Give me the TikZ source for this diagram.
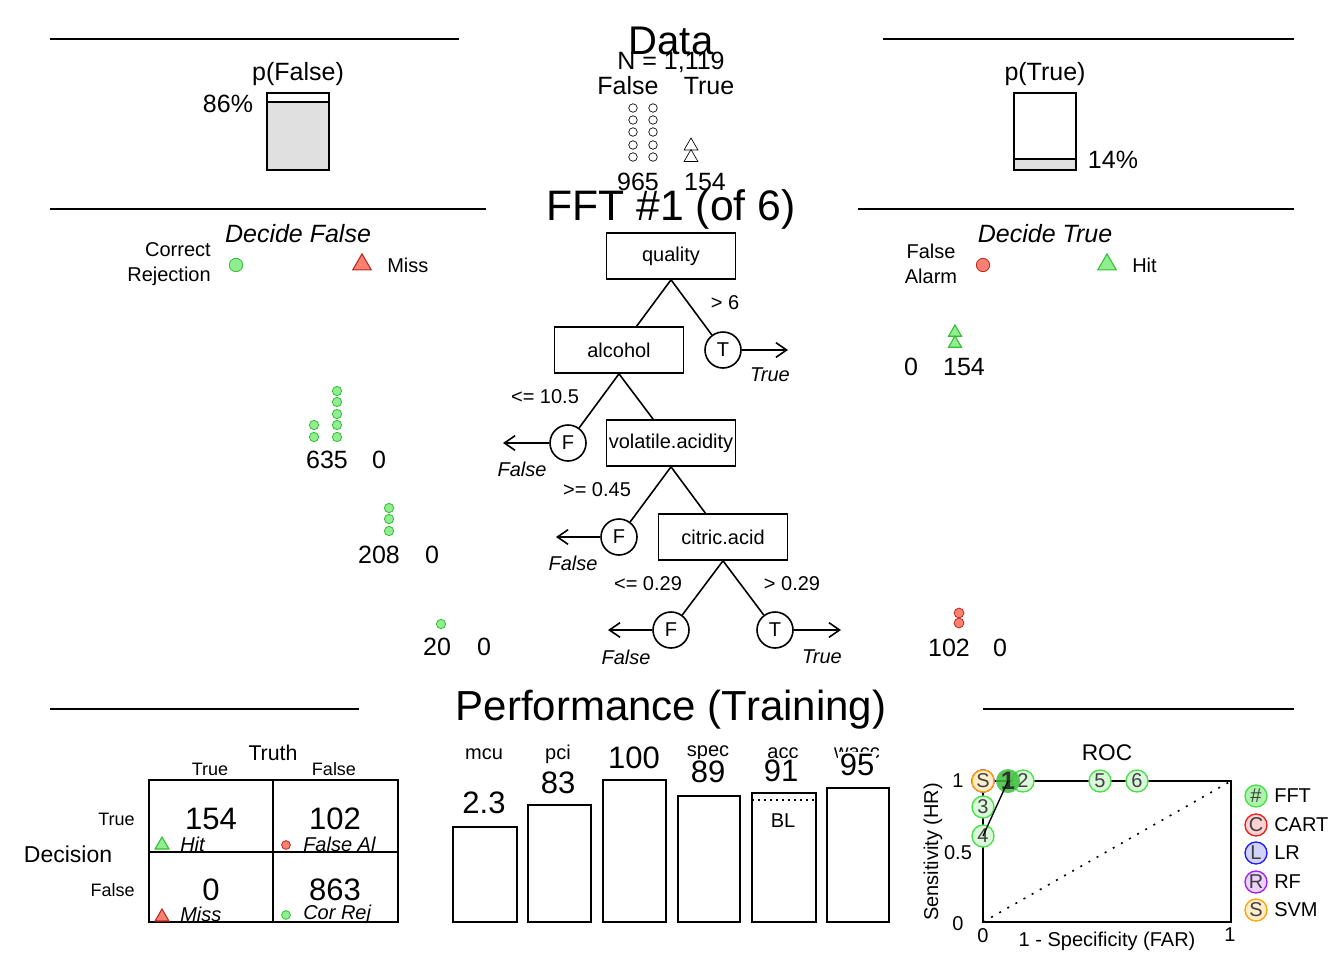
\documentclass[tikz,border=0pt]{standalone}
\usepackage{fontspec}
\setmainfont{Liberation Sans}
\usetikzlibrary{arrows.meta,shapes.geometric}

\definecolor{grfill}{RGB}{144,238,144}
\definecolor{grline}{RGB}{50,190,50}
\definecolor{rdfill}{RGB}{250,128,114}
\definecolor{rdline}{RGB}{190,40,30}
\definecolor{barfill}{RGB}{224,224,224}
\definecolor{rocgreen}{RGB}{70,225,70}
\definecolor{rocred}{RGB}{240,30,30}
\definecolor{rocblue}{RGB}{30,30,240}
\definecolor{rocpurple}{RGB}{160,32,240}
\definecolor{rocorange}{RGB}{255,165,0}

\newcommand{\sizeS}{\fontsize{15}{18.75}\selectfont}
\newcommand{\sizeM}{\fontsize{18.75}{22.5}\selectfont}
\newcommand{\sizeL}{\fontsize{23.25}{27.9}\selectfont}

\tikzset{
  rule/.style={line width=1.5pt},
  txtS/.style={inner sep=0pt, font=\sizeS},
  txtM/.style={inner sep=0pt, font=\sizeM},
  txtL/.style={inner sep=0pt, font=\sizeL},
  cue/.style={draw, line width=1.2pt, minimum width=96.75pt, minimum height=34.5pt, inner sep=0pt, font=\sizeS},
  exitnode/.style={draw, circle, line width=1.2pt, minimum size=27pt, inner sep=0pt, font=\sizeS},
  branch/.style={line width=1.2pt},
  exitarrow/.style={line width=1.2pt, -{Straight Barb[length=8pt,width=11pt]}},
  tri/.style={regular polygon, regular polygon sides=3, inner sep=0pt, line width=0.8pt},
  hittri/.style={tri, draw=grline, fill=grfill},
  misstri/.style={tri, draw=rdline, fill=rdfill},
  crdot/.style={draw=grline, fill=grfill, line width=0.6pt},
  fadot/.style={draw=rdline, fill=rdfill, line width=0.6pt},
  bar/.style={draw, line width=1.2pt},
  valbox/.style={inner sep=1.5pt, fill=white, font=\sizeL},
  rocpt/.style={circle, draw=#1, fill=#1!20, line width=1pt, minimum size=16.5pt, inner sep=0pt, font=\sizeS, text=black!75},
}

\begin{document}
\begin{tikzpicture}[x=0.75pt,y=-0.75pt]
\useasboundingbox (0,0) rectangle (1344,960);

	% header rules
	\draw[rule] (50,39) -- (459,39);
	\draw[rule] (883,39) -- (1294,39);
	\draw[rule] (50,209) -- (486,209);
	\draw[rule] (858,209) -- (1294,209);
	\draw[rule] (50,709) -- (359,709);
	\draw[rule] (983,709) -- (1294,709);

	% data
	\node[inner sep=0pt, font=\fontsize{30}{36}\selectfont] (datatitle) at (671,41) {Data};
	\node[txtM] (ntotal) at (671,62) {N = 1,119};
	\node[txtM] (hdfalse) at (628,86) {False};
	\node[txtM] (hdtrue) at (709,86) {True};
	\foreach \y in {108,120,132,145,157}
		\draw[line width=0.5pt] (633,\y) circle[radius=3.2pt] (653,\y) circle[radius=3.2pt];
	\node[tri, draw, fill=white, line width=0.5pt, minimum size=12pt] (dtri1) at (691,146) {};
	\node[tri, draw, fill=white, line width=0.5pt, minimum size=12pt] (dtri2) at (691,157.5) {};
	\node[txtM] (nfalse) at (638,182) {965};
	\node[txtM] (ntrue) at (705,182) {154};

	% p(False) / p(True)
	\node[txtM] (pfalse) at (298,74) {p(False)};
	\draw[line width=1.2pt, fill=barfill] (267,93) rectangle (329,170);
	\draw[line width=1.2pt, fill=white] (267,93) rectangle (329,102);
	\node[txtM] (pfalseval) at (228,104) {86\%};
	\node[txtM] (ptrue) at (1045,74) {p(True)};
	\draw[line width=1.2pt] (1014,93) rectangle (1076,170);
	\draw[line width=1.2pt, fill=barfill] (1014,159) rectangle (1076,170);
	\node[txtM] (ptrueval) at (1113,160) {14\%};

	% tree title and legends
	\node[inner sep=0pt, font=\fontsize{32}{38}\selectfont] (ffttitle) at (671,209) {FFT \#1 (of 6)};
	\node[txtM, font=\sizeM\itshape] (decfalse) at (298,234) {Decide False};
	\node[txtS, align=right, anchor=east] (corrrej) at (211,264) {Correct\\Rejection};
	\filldraw[crdot] (236,265) circle[radius=5pt];
	\node[misstri, minimum size=16pt] (misslegend) at (362,264.5) {};
	\node[txtS, anchor=west] (misstxt) at (387,265) {Miss};
	\node[txtM, font=\sizeM\itshape] (dectrue) at (1045,234) {Decide True};
	\node[txtS, align=center] (falsealarm) at (931,264) {False\\Alarm};
	\filldraw[fadot] (983,265) circle[radius=5pt];
	\node[hittri, minimum size=16pt] (hitlegend) at (1107,264.5) {};
	\node[txtS, anchor=west] (hittxt) at (1132,265) {Hit};

	% tree
	\node[cue] (quality) at (671,256) {quality};
	\node[cue] (alcohol) at (619,350) {alcohol};
	\node[cue] (volatile) at (671,443) {volatile.acidity};
	\node[cue] (citric) at (723,537) {citric.acid};
	\node[exitnode] (exitT1) at (723,350) {T};
	\node[exitnode] (exitF2) at (568,443) {F};
	\node[exitnode] (exitF3) at (619,537) {F};
	\node[exitnode] (exitF4) at (671,630) {F};
	\node[exitnode] (exitT4) at (775,630) {T};
	\coordinate (endT1) at (788,350);
	\coordinate (endF2) at (503,443);
	\coordinate (endF3) at (556,537);
	\coordinate (endF4) at (608,630);
	\coordinate (endT4) at (841,630);

	\draw[branch] (quality.south) -- (alcohol);
	\draw[branch] (quality.south) -- (exitT1);
	\draw[branch] (alcohol.south) -- (exitF2);
	\draw[branch] (alcohol.south) -- (volatile);
	\draw[branch] (volatile.south) -- (exitF3);
	\draw[branch] (volatile.south) -- (citric);
	\draw[branch] (citric.south) -- (exitF4);
	\draw[branch] (citric.south) -- (exitT4);
	\draw[exitarrow] (exitT1) -- (endT1);
	\draw[exitarrow] (exitF2) -- (endF2);
	\draw[exitarrow] (exitF3) -- (endF3);
	\draw[exitarrow] (exitF4) -- (endF4);
	\draw[exitarrow] (exitT4) -- (endT4);

	\node[txtS] (thr1) at (725,303) {> 6};
	\node[txtS] (thr2) at (545,397) {<= 10.5};
	\node[txtS] (thr3) at (597,490) {>= 0.45};
	\node[txtS] (thr4a) at (648,584) {<= 0.29};
	\node[txtS] (thr4b) at (792,584) {> 0.29};
	\node[txtS, font=\sizeS\itshape] (decT1) at (770,375) {True};
	\node[txtS, font=\sizeS\itshape] (decF2) at (522,469) {False};
	\node[txtS, font=\sizeS\itshape] (decF3) at (573,563) {False};
	\node[txtS, font=\sizeS\itshape] (decF4) at (626,657) {False};
	\node[txtS, font=\sizeS\itshape] (decT4) at (822,657) {True};

	% cases at each exit
	\foreach \y in {425,437} \filldraw[crdot] (314,\y) circle[radius=3.5pt];
	\foreach \y in {391,402,414,425,437} \filldraw[crdot] (337,\y) circle[radius=3.5pt];
	\node[txtM] (crF2) at (327,460) {635};
	\node[txtM] (miF2) at (379,460) {0};
	\foreach \y in {508,519,531} \filldraw[crdot] (389,\y) circle[radius=3.5pt];
	\node[txtM] (crF3) at (379,555) {208};
	\node[txtM] (miF3) at (432,555) {0};
	\filldraw[crdot] (441,624) circle[radius=3.5pt];
	\node[txtM] (crF4) at (437,647) {20};
	\node[txtM] (miF4) at (484,647) {0};
	\node[hittri, minimum size=11.25pt] (hitT1a) at (955,332.5) {};
	\node[hittri, minimum size=11.25pt] (hitT1b) at (955,343.5) {};
	\node[txtM] (faT1) at (911,367) {0};
	\node[txtM] (hiT1) at (964,367) {154};
	\filldraw[fadot] (959,613) circle[radius=3.7pt] (959,623) circle[radius=3.7pt];
	\node[txtM] (faT4) at (949,648) {102};
	\node[txtM] (hiT4) at (1000,648) {0};

	% performance
	\node[inner sep=0pt, font=\fontsize{31.5}{38}\selectfont] (perftitle) at (671,710) {Performance (Training)};

	% confusion table
	\draw[line width=1.2pt] (149,780) rectangle (398,922);
	\draw[line width=1.2pt] (273,780) -- (273,922);
	\draw[line width=1.2pt] (149,852) -- (398,852);
	\node[inner sep=0pt, font=\fontsize{16}{19}\selectfont] (truth) at (273,753) {Truth};
	\node[inner sep=0pt, font=\fontsize{13.5}{16}\selectfont] (coltrue) at (210,769) {True};
	\node[inner sep=0pt, font=\fontsize{13.5}{16}\selectfont] (colfalse) at (334,769) {False};
	\node[inner sep=0pt, font=\fontsize{13.5}{16}\selectfont, anchor=east] (rowtrue) at (135,819) {True};
	\node[inner sep=0pt, font=\fontsize{13.5}{16}\selectfont, anchor=east] (rowfalse) at (135,890) {False};
	\node[inner sep=0pt, font=\fontsize{17.25}{20}\selectfont] (decision) at (68,854) {Decision};
	\node[txtL] (nhit) at (211,819) {154};
	\node[txtL] (nfa) at (335,819) {102};
	\node[txtL] (nmiss) at (211,890) {0};
	\node[txtL] (ncr) at (335,890) {863};
	\node[hittri, minimum size=12pt] (hitcell) at (162,845) {};
	\node[misstri, minimum size=12pt] (misscell) at (162,917) {};
	\filldraw[fadot] (286,845) circle[radius=3.3pt];
	\filldraw[crdot] (286,915) circle[radius=3.3pt];
	\node[txtS, font=\sizeS\itshape, anchor=west] (hitlbl) at (180,844) {Hit};
	\node[txtS, font=\sizeS\itshape, anchor=west] (falbl) at (303,844) {False Al};
	\node[txtS, font=\sizeS\itshape, anchor=west] (misslbl) at (180,914) {Miss};
	\node[txtS, font=\sizeS\itshape, anchor=west] (crlbl) at (303,914) {Cor Rej};

	% level bars
	\draw[bar] (453,827) rectangle (517,922);
	\draw[bar] (528,805) rectangle (591,922);
	\draw[bar] (603,780) rectangle (666,922);
	\draw[bar] (678,796) rectangle (740,922);
	\draw[bar] (752,793) rectangle (816,922);
	\draw[bar] (827,788) rectangle (889,922);
	\draw[line width=1.2pt, dash pattern=on 1.5pt off 3pt] (752,800) -- (816,800);
	\node[txtS] (lblmcu) at (484,754) {mcu};
	\node[txtS] (lblpci) at (558,754) {pci};
	\node[txtS] (lblspec) at (708,753) {spec};
	\node[txtS] (lblacc) at (783,753) {acc};
	\node[txtS] (lblwacc) at (857,753) {wacc};
	\node[valbox] (valmcu) at (484,803) {2.3};
	\node[valbox] (valpci) at (558,783) {83};
	\node[valbox] (valsens) at (634,758) {100};
	\node[valbox] (valspec) at (708,772) {89};
	\node[valbox] (valacc) at (781,771) {91};
	\node[valbox] (valwacc) at (857,765) {95};
	\node[txtS] (baseline) at (783,821) {BL};

	% ROC
	\node[inner sep=0pt, font=\fontsize{17}{20}\selectfont] (roctitle) at (1107,753) {ROC};
	\draw[line width=1.2pt] (983,781) rectangle (1231,922);
	\draw[line width=1.2pt, dash pattern=on 1.5pt off 5.5pt] (983,922) -- (1231,781);
	\node[txtS] (ytick1) at (958,781) {1};
	\node[txtS] (ytick05) at (958,853) {0.5};
	\node[txtS] (ytick0) at (958,924) {0};
	\node[txtS] (xtick0) at (983,936) {0};
	\node[txtS] (xtick1) at (1230,935) {1};
	\node[txtS] (xlabel) at (1107,941) {1 - Specificity (FAR)};
	\node[txtS, rotate=90] (ylabel) at (933,852) {Sensitivity (HR)};

	\node[rocpt=rocred] (rcart) at (983,781) {C};
	\node[rocpt=rocblue] (rlr) at (983,781) {L};
	\node[rocpt=rocpurple] (rrf) at (983,781) {R};
	\node[rocpt=rocorange] (rsvm) at (983,781) {S};
	\node[rocpt=rocgreen] (r3) at (983,807) {3};
	\node[rocpt=rocgreen] (r4) at (983,836) {4};
	\node[rocpt=rocgreen] (r2) at (1023,781) {2};
	\node[rocpt=rocgreen] (r5) at (1100,781) {5};
	\node[rocpt=rocgreen] (r6) at (1137,781) {6};
	\node[circle, fill=rocgreen!85!black, fill opacity=0.85, text opacity=1, minimum size=18pt, inner sep=0pt,
		font=\fontsize{19}{22}\selectfont\bfseries, text=black!80] (r1) at (1008,781) {1};
	\draw[line width=1pt] (r4.center) -- (r1.center);

	% legend
	\node[rocpt=rocgreen, fill=rocgreen!45] (legfft) at (1256,796) {\#};
	\node[rocpt=rocred] (legcart) at (1256,825) {C};
	\node[rocpt=rocblue] (leglr) at (1256,853) {L};
	\node[rocpt=rocpurple] (legrf) at (1256,882) {R};
	\node[rocpt=rocorange] (legsvm) at (1256,910) {S};
	\node[txtS, anchor=west] (txtfft) at (1274,796) {FFT};
	\node[txtS, anchor=west] (txtcart) at (1274,825) {CART};
	\node[txtS, anchor=west] (txtlr) at (1274,853) {LR};
	\node[txtS, anchor=west] (txtrf) at (1274,882) {RF};
	\node[txtS, anchor=west] (txtsvm) at (1274,910) {SVM};

\end{tikzpicture}
\end{document}
